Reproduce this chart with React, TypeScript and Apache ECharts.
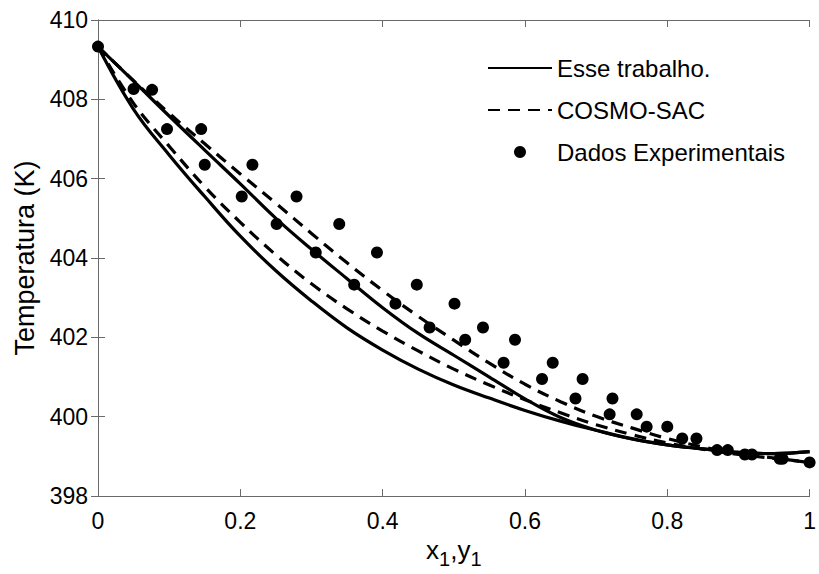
import React, { useEffect, useRef } from "react";
import * as echarts from "echarts";

// composition grid for model curves
const xGrid = [0, 0.05, 0.1, 0.15, 0.2, 0.25, 0.3, 0.35, 0.4, 0.45, 0.5, 0.55, 0.6, 0.65, 0.7, 0.75, 0.8, 0.85, 0.9, 0.95, 1.0];

// "Esse trabalho." (solid) – upper and lower branches
const esseUpper = [409.33, 408.46, 407.58, 406.72, 405.87, 405.0, 404.22, 403.48, 402.75, 402.1, 401.55, 401.0, 400.45, 399.98, 399.66, 399.44, 399.29, 399.19, 399.1, 399.07, 399.12];
const esseLower = [409.33, 407.75, 406.6, 405.55, 404.55, 403.68, 402.92, 402.24, 401.68, 401.2, 400.8, 400.47, 400.16, 399.89, 399.66, 399.45, 399.29, 399.19, 399.1, 399.07, 399.12];

// "COSMO-SAC" (dashed) – upper and lower branches
const cosmoUpper = [409.33, 408.47, 407.65, 406.88, 406.12, 405.38, 404.62, 403.88, 403.18, 402.53, 401.93, 401.35, 400.82, 400.38, 400.01, 399.72, 399.45, 399.24, 399.08, 398.96, 398.85];
const cosmoLower = [409.33, 407.9, 406.82, 405.8, 404.9, 404.08, 403.35, 402.72, 402.16, 401.66, 401.2, 400.8, 400.43, 400.1, 399.8, 399.55, 399.34, 399.18, 399.05, 398.95, 398.85];

// experimental data
const expX = [0.0, 0.05, 0.076, 0.097, 0.145, 0.15, 0.217, 0.202, 0.279, 0.251, 0.339, 0.306, 0.392, 0.36, 0.448, 0.418, 0.501, 0.466, 0.541, 0.516, 0.586, 0.57, 0.639, 0.624, 0.681, 0.671, 0.723, 0.719, 0.757, 0.771, 0.8, 0.821, 0.841, 0.87, 0.885, 0.909, 0.919, 0.958, 0.962, 1.0];
const expT = [409.33, 408.26, 408.24, 407.25, 407.25, 406.35, 406.35, 405.55, 405.55, 404.86, 404.86, 404.14, 404.14, 403.33, 403.33, 402.85, 402.85, 402.25, 402.25, 401.94, 401.94, 401.36, 401.36, 400.95, 400.95, 400.46, 400.46, 400.06, 400.06, 399.75, 399.75, 399.45, 399.45, 399.16, 399.16, 399.05, 399.05, 398.94, 398.94, 398.85];

const legendNames = ["Esse trabalho.", "COSMO-SAC", "Dados Experimentais"];

const FONT = "'Liberation Sans', Arial, Helvetica, sans-serif";
const AXIS_COLOR = "#6a6a6a";

function pairs(xs: number[], ys: number[]) {
  return xs.map((x, i) => [x, ys[i]]);
}

export default function App() {
  const ref = useRef<HTMLDivElement>(null);
  useEffect(() => {
    if (!ref.current) return;
    const chart = echarts.init(ref.current, null, { renderer: "svg" });
    const lineBase = (name: string, data: number[][], dashed: boolean) => ({
      name,
      type: "line",
      data,
      smooth: 0.4,
      symbol: "none",
      lineStyle: { color: "#000", width: 3.2, type: dashed ? [12, 8] : "solid" },
      itemStyle: { color: "#000" },
      z: 2,
    });
    const axisCommon = {
      axisLine: { show: true, lineStyle: { color: AXIS_COLOR, width: 1 } },
      axisTick: { show: true, inside: true, length: 7, lineStyle: { color: AXIS_COLOR, width: 1 } },
      splitLine: { show: false },
    };
    chart.setOption({
      animation: false,
      backgroundColor: "#fff",
      textStyle: { fontFamily: FONT },
      grid: { left: 98, right: 7, top: 20, bottom: 77, containLabel: false },
      legend: {
        data: [
          { name: legendNames[0], itemStyle: { color: "rgba(0,0,0,0)", borderWidth: 0 } },
          { name: legendNames[1], itemStyle: { color: "rgba(0,0,0,0)", borderWidth: 0 } },
          { name: legendNames[2], icon: "circle", itemStyle: { color: "#000", opacity: 1 } },
        ],
        orient: "vertical",
        left: 482,
        top: 50,
        itemWidth: 64,
        itemHeight: 12,
        itemGap: 16,
        textStyle: { fontSize: 24, color: "#000", fontFamily: FONT, lineHeight: 26 },
        selectedMode: false,
      },
      xAxis: [
        {
          type: "value",
          min: 0,
          max: 1,
          interval: 0.2,
          position: "bottom",
          ...axisCommon,
          axisLabel: { color: "#000", fontSize: 23, fontFamily: FONT, margin: 13 },
          name: "{a|x}{s|1}{a|,y}{s|1}",
          nameLocation: "middle",
          nameGap: 34,
          nameTextStyle: {
            color: "#000",
            fontFamily: FONT,
            rich: {
              a: { fontSize: 26, fontFamily: FONT, color: "#000", lineHeight: 38, verticalAlign: "middle" },
              s: { fontSize: 20, fontFamily: FONT, color: "#000", lineHeight: 38, verticalAlign: "bottom" },
            },
          },
        },
        {
          type: "value",
          min: 0,
          max: 1,
          interval: 0.2,
          position: "top",
          ...axisCommon,
          axisLabel: { show: false },
        },
      ],
      yAxis: [
        {
          type: "value",
          min: 398,
          max: 410,
          interval: 2,
          position: "left",
          ...axisCommon,
          axisLabel: { color: "#000", fontSize: 23, fontFamily: FONT, margin: 10 },
          name: "Temperatura (K)",
          nameLocation: "middle",
          nameGap: 56,
          nameTextStyle: { color: "#000", fontSize: 27, fontFamily: FONT },
        },
        {
          type: "value",
          min: 398,
          max: 410,
          interval: 2,
          position: "right",
          ...axisCommon,
          axisLabel: { show: false },
        },
      ],
      series: [
        lineBase(legendNames[0], pairs(xGrid, esseUpper), false),
        lineBase(legendNames[0], pairs(xGrid, esseLower), false),
        lineBase(legendNames[1], pairs(xGrid, cosmoUpper), true),
        lineBase(legendNames[1], pairs(xGrid, cosmoLower), true),
        {
          name: legendNames[2],
          type: "scatter",
          data: pairs(expX, expT),
          symbol: "circle",
          symbolSize: 12,
          itemStyle: { color: "#000", opacity: 1 },
          z: 3,
        },
      ],
    });
    return () => chart.dispose();
  }, []);
  return (
    <div
      ref={ref}
      style={{ position: "fixed", left: 0, top: 0, width: 819, height: 574, background: "#fff" }}
    />
  );
}
